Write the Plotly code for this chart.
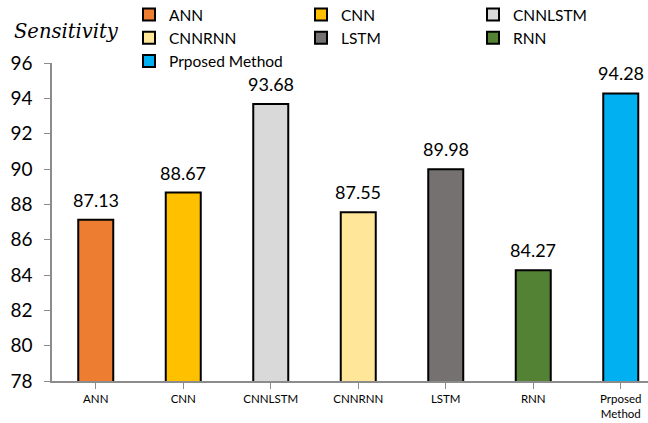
import plotly.graph_objects as go

categories = ["ANN", "CNN", "CNNLSTM", "CNNRNN", "LSTM", "RNN", "Prposed Method"]
tick_labels = ["ANN", "CNN", "CNNLSTM", "CNNRNN", "LSTM", "RNN", "Prposed<br>Method"]
sensitivity = [87.13, 88.67, 93.68, 87.55, 89.98, 84.27, 94.28]
colors = ["#ED7D31", "#FFC000", "#D9D9D9", "#FFE699", "#767171", "#548235", "#00B0F0"]

FONT = "Lato, 'Open Sans', sans-serif"

fig = go.Figure()
for i, (name, val, col) in enumerate(zip(categories, sensitivity, colors)):
    fig.add_trace(go.Bar(
        x=[i], y=[val], name=name,
        marker=dict(color=col, line=dict(color="#000000", width=2)),
        width=0.4,
        cliponaxis=False,
    ))

# value labels above each bar
value_labels = [
    dict(x=i, y=val, xref="x", yref="y", text=f"{val:.2f}", showarrow=False,
         xanchor="center", yanchor="bottom", yshift=7,
         font=dict(size=18, color="#000000", family=FONT))
    for i, val in enumerate(sensitivity)
]

fig.update_layout(
    width=648, height=423,
    margin=dict(l=52, r=0, t=63, b=42, autoexpand=False),
    plot_bgcolor="white", paper_bgcolor="white",
    barmode="overlay",
    showlegend=True,
    legend=dict(
        orientation="h", x=(129 - 52) / 596, xanchor="left",
        y=1.0 + 65 / 318, yanchor="top",
        entrywidth=127, entrywidthmode="pixels",
        font=dict(size=15.5, family=FONT, color="#000000"),
        itemwidth=30, tracegroupgap=0,
        bgcolor="rgba(0,0,0,0)",
    ),
    annotations=[dict(
        text="Sensitivity", xref="paper", yref="paper",
        x=-40 / 596, y=1.0 + (63 - 32) / 318,
        xanchor="left", yanchor="middle", showarrow=False,
        font=dict(size=19.5, family="'DejaVu Serif', serif", color="#000000", style="italic"),
    )] + value_labels,
)

fig.update_yaxes(
    range=[78, 96], dtick=2, tick0=78,
    showgrid=False, zeroline=False,
    showline=True, linecolor="#8C8C8C", linewidth=1.5,
    ticks="outside", ticklen=6, tickcolor="#8C8C8C",
    ticklabelstandoff=8,
    tickfont=dict(size=19, family=FONT, color="#000000"),
)
fig.update_xaxes(
    range=[-0.5, -0.5 + 596 / 87.5],
    tickmode="array", tickvals=list(range(len(categories))), ticktext=tick_labels,
    tickson="boundaries",
    showgrid=False, zeroline=False,
    showline=True, linecolor="#8C8C8C", linewidth=2,
    ticks="outside", ticklen=6, tickcolor="#8C8C8C",
    tickfont=dict(size=11.5, family=FONT, color="#000000"),
)

fig.write_html("out.html")
